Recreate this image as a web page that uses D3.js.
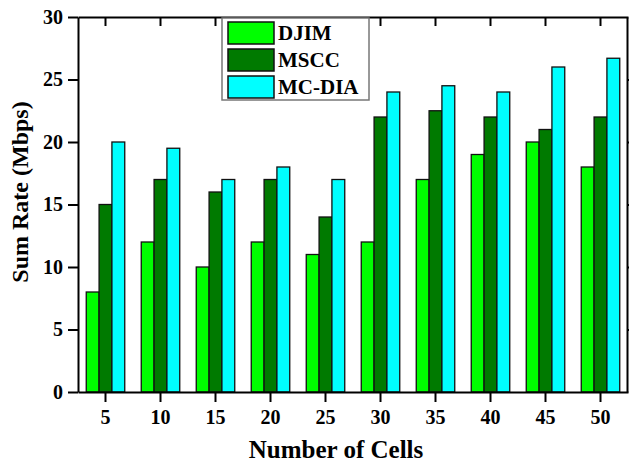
<!DOCTYPE html>
<html lang="en">
<head>
  <meta charset="UTF-8">
  <title>Sum Rate vs Number of Cells</title>
  <script src="https://d3js.org/d3.v7.min.js"></script>
  <style>
    body { margin: 0; background: #fff; }
    svg { display: block; font-family: "Liberation Serif", "Times New Roman", serif; font-weight: bold; }
  </style>
</head>
<body>
  <div id="chart"></div>
  <script>

    const cells = [5, 10, 15, 20, 25, 30, 35, 40, 45, 50];
    const seriesNames = ["DJIM", "MSCC", "MC-DIA"];
    const djim  = [8, 12, 10, 12, 11, 12, 17, 19, 20, 18];
    const mscc  = [15, 17, 16, 17, 14, 22, 22.5, 22, 21, 22];
    const mcdia = [20, 19.5, 17, 18, 17, 24, 24.5, 24, 26, 26.7];
    const yTicks = [0, 5, 10, 15, 20, 25, 30];

    const width = 629,
          height = 462,
          margin = {top: 17, right: 1, bottom: 70, left: 78};

    const svg = d3.select("#chart")
      .append("svg")
      .attr("width", width)
      .attr("height", height);

    const table = cells.map((c, i) => ({cell: c, DJIM: djim[i], MSCC: mscc[i], "MC-DIA": mcdia[i]}));

    const x = d3.scaleBand(cells, [margin.left, width - margin.right])
      .paddingInner(0.3)
      .paddingOuter(0.15);

    const xs = d3.scaleBand(seriesNames, [0, x.bandwidth()]);

    const y = d3.scaleLinear([0, 30], [height - margin.bottom, margin.top]);

    const color = d3.scaleOrdinal(seriesNames, ["#00ff00", "#007a00", "#00ffff"]);

    // bars
    svg.append("g")
      .selectAll("g")
      .data(table)
      .join("g")
      .attr("transform", d => `translate(${x(d.cell)},0)`)
      .selectAll("rect")
      .data(d => seriesNames.map(k => ({key: k, value: d[k]})))
      .join("rect")
      .attr("x", d => xs(d.key))
      .attr("y", d => y(d.value))
      .attr("width", xs.bandwidth())
      .attr("height", d => y(0) - y(d.value))
      .attr("fill", d => color(d.key))
      .attr("stroke", "#111")
      .attr("stroke-width", 1.3);

    // axes
    const styleAxis = g => {
      g.select(".domain").attr("stroke", "#000").attr("stroke-width", 2);
      g.selectAll(".tick line").attr("stroke", "#000").attr("stroke-width", 2);
      g.selectAll("text").attr("font-family", "Liberation Serif").attr("font-weight", "bold")
        .attr("font-size", 20).attr("fill", "#000");
    };

    svg.append("g")
      .attr("transform", `translate(0,${height - margin.bottom})`)
      .call(d3.axisBottom(x).tickSize(10).tickPadding(8).tickSizeOuter(0))
      .call(styleAxis);

    svg.append("g")
      .attr("transform", `translate(0,${margin.top})`)
      .call(d3.axisBottom(x).tickSize(9).tickSizeOuter(0).tickFormat(""))
      .call(styleAxis);

    svg.append("g")
      .attr("transform", `translate(${margin.left},0)`)
      .call(d3.axisLeft(y).tickValues(yTicks).tickSize(10).tickPadding(5).tickSizeOuter(0))
      .call(styleAxis);

    svg.append("g")
      .attr("transform", `translate(${width - margin.right - 1},0)`)
      .call(d3.axisLeft(y).tickValues(yTicks.slice(1, -1)).tickSize(-10).tickSizeOuter(0).tickFormat(""))
      .call(styleAxis);

    // axis titles
    svg.append("text")
      .attr("x", 336)
      .attr("y", height - 4)
      .attr("text-anchor", "middle")
      .style("font-size", "25px")
      .text("Number of Cells");

    svg.append("text")
      .attr("transform", `translate(28,192) rotate(-90)`)
      .attr("text-anchor", "middle")
      .style("font-size", "24px")
      .text("Sum Rate (Mbps)");

    // legend
    const legend = svg.append("g").attr("transform", "translate(222,18)");

    legend.append("rect")
      .attr("width", 147)
      .attr("height", 82)
      .attr("fill", "#fff")
      .attr("stroke", "#777")
      .attr("stroke-width", 1.5);

    const item = legend.selectAll(".legend-item")
      .data(seriesNames)
      .join("g")
      .attr("class", "legend-item")
      .attr("transform", (d, i) => `translate(6,${4 + i * 27})`);

    item.append("rect")
      .attr("width", 46)
      .attr("height", 22)
      .attr("fill", d => color(d))
      .attr("stroke", "#111")
      .attr("stroke-width", 1.5);

    item.append("text")
      .attr("x", 50)
      .attr("y", 18)
      .style("font-size", "21px")
      .text(d => d);

  </script>
</body>
</html>
